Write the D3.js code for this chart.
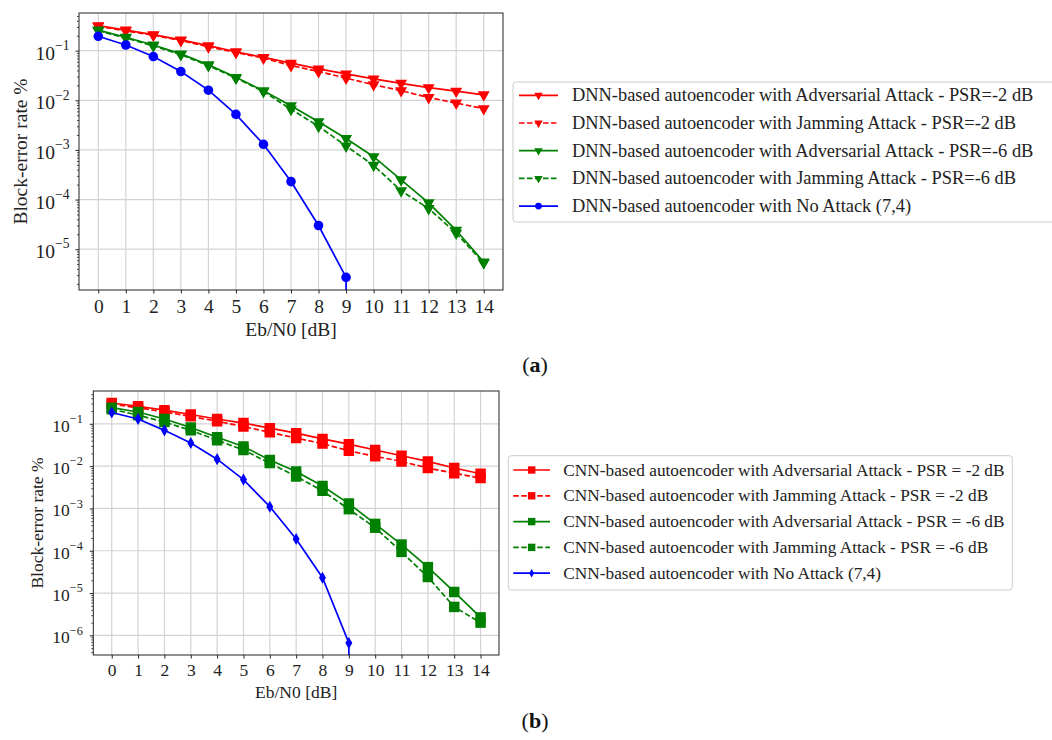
<!DOCTYPE html>
<html>
<head>
<meta charset="utf-8">
<script src="https://cdnjs.cloudflare.com/ajax/libs/d3/7.8.5/d3.min.js"></script>
<style>
body { margin: 0; background: #fff; }
svg { display: block; font-family: "Liberation Serif", "Times New Roman", serif; }
</style>
</head>
<body>
<svg width="1052" height="740"></svg>
<script>
// Eb/N0 values on the x axis
var ebn0 = [0, 1, 2, 3, 4, 5, 6, 7, 8, 9, 10, 11, 12, 13, 14];

// panel (a): DNN autoencoder
var dnnAdv2 = [0.32, 0.26, 0.21, 0.165, 0.126, 0.095, 0.073, 0.056, 0.043, 0.034, 0.027, 0.022, 0.018, 0.0153, 0.0129];
var dnnJam2 = [0.31, 0.25, 0.205, 0.16, 0.12, 0.092, 0.071, 0.05, 0.038, 0.028, 0.0206, 0.0156, 0.0114, 0.0088, 0.0068];
var dnnAdv6 = [0.26, 0.186, 0.13, 0.086, 0.052, 0.029, 0.0156, 0.0078, 0.0037, 0.0017, 7.3e-4, 2.5e-4, 8.6e-5, 2.4e-5, 5.5e-6];
var dnnJam6 = [0.25, 0.18, 0.125, 0.083, 0.05, 0.028, 0.015, 0.0066, 0.003, 0.0012, 4.9e-4, 1.5e-4, 6.6e-5, 2.1e-5, 5.3e-6];
var dnnNone = [0.195, 0.13, 0.076, 0.038, 0.016, 0.0052, 0.0013, 2.3e-4, 3.0e-5, 2.7e-6, 0];

// panel (b): CNN autoencoder
var cnnAdv2 = [0.31, 0.26, 0.21, 0.166, 0.13, 0.104, 0.079, 0.06, 0.044, 0.033, 0.024, 0.0176, 0.0129, 0.009, 0.0066];
var cnnJam2 = [0.29, 0.24, 0.19, 0.15, 0.115, 0.086, 0.063, 0.046, 0.034, 0.023, 0.017, 0.0129, 0.009, 0.0068, 0.0052];
var cnnAdv6 = [0.24, 0.19, 0.13, 0.082, 0.048, 0.029, 0.014, 0.0075, 0.0034, 0.0013, 4.3e-4, 1.4e-4, 4.1e-5, 1.06e-5, 2.66e-6];
var cnnJam6 = [0.22, 0.16, 0.11, 0.07, 0.041, 0.024, 0.0118, 0.0057, 0.0026, 9.6e-4, 3.5e-4, 9.4e-5, 2.4e-5, 4.7e-6, 2.0e-6];
var cnnNone = [0.185, 0.13, 0.07, 0.035, 0.0146, 0.0048, 0.0011, 1.9e-4, 2.3e-5, 6.6e-7, 0];

var dnnLabels = [
  "DNN-based autoencoder with Adversarial Attack - PSR=-2 dB",
  "DNN-based autoencoder with Jamming Attack - PSR=-2 dB",
  "DNN-based autoencoder with Adversarial Attack - PSR=-6 dB",
  "DNN-based autoencoder with Jamming Attack - PSR=-6 dB",
  "DNN-based autoencoder with No Attack (7,4)"
];
var cnnLabels = [
  "CNN-based autoencoder with Adversarial Attack - PSR = -2 dB",
  "CNN-based autoencoder with Jamming Attack - PSR = -2 dB",
  "CNN-based autoencoder with Adversarial Attack - PSR = -6 dB",
  "CNN-based autoencoder with Jamming Attack - PSR = -6 dB",
  "CNN-based autoencoder with No Attack (7,4)"
];

var lineColors = ["#ff0000", "#ff0000", "#008000", "#008000", "#0000ff"];
var lineDash = [null, "5.5,2.5", null, "5.5,2.5", null];

var svg = d3.select("svg");

function markerPath(type, size) {
  if (type == "v") return d3.symbol().type(d3.symbolTriangle).size(size)();
  if (type == "o") return d3.symbol().type(d3.symbolCircle).size(size)();
  if (type == "s") return d3.symbol().type(d3.symbolSquare).size(size)();
  return d3.symbol().type(d3.symbolDiamond).size(size)();
}

function drawPanel(p) {
  var g = svg.append("g").attr("transform", "translate(" + p.left + "," + p.top + ")");
  var w = p.width, h = p.height;

  // log domain with matplotlib-like 5% margin
  var all = [];
  p.series.forEach(function (s) { s.forEach(function (v) { if (v > 0) all.push(Math.log10(v)); }); });
  var lo = d3.min(all), hi = d3.max(all), m = (hi - lo) * 0.05;

  var x = d3.scaleLinear().domain([ebn0[0] - 0.7, ebn0[ebn0.length - 1] + 0.7]).range([0, w]);
  var y = d3.scaleLog().domain([Math.pow(10, lo - m), Math.pow(10, hi + m)]).range([h, 0]);

  var decades = [];
  for (var k = Math.ceil(lo - m); k <= Math.floor(hi + m); k++) decades.push(k);
  var minors = [];
  for (var k = Math.floor(lo - m); k <= Math.ceil(hi + m); k++) {
    for (var j = 2; j < 10; j++) {
      var v = j * Math.pow(10, k);
      if (v >= y.domain()[0] && v <= y.domain()[1]) minors.push(v);
    }
  }

  // grid
  g.append("g").selectAll("line").data(ebn0).enter().append("line")
    .attr("x1", function (d) { return x(d); }).attr("x2", function (d) { return x(d); })
    .attr("y1", 0).attr("y2", h)
    .attr("stroke", "#d3d3d3").attr("stroke-width", 1.2);
  g.append("g").selectAll("line").data(decades).enter().append("line")
    .attr("y1", function (d) { return y(Math.pow(10, d)); }).attr("y2", function (d) { return y(Math.pow(10, d)); })
    .attr("x1", 0).attr("x2", w)
    .attr("stroke", "#d3d3d3").attr("stroke-width", 1.2);

  // curves, zero values are clipped far below like matplotlib does
  var clipId = "clip" + p.name;
  g.append("clipPath").attr("id", clipId).append("rect").attr("width", w).attr("height", h);
  var plot = g.append("g").attr("clip-path", "url(#" + clipId + ")");

  var line = d3.line()
    .x(function (d, i) { return x(ebn0[i]); })
    .y(function (d) { return y(d > 0 ? d : 1e-300); });

  p.series.forEach(function (s, i) {
    plot.append("path").datum(s)
      .attr("d", line)
      .attr("fill", "none")
      .attr("stroke", lineColors[i])
      .attr("stroke-width", 1.7)
      .attr("stroke-dasharray", lineDash[i]);
    var mk = i == 4 ? p.markers[1] : p.markers[0];
    plot.append("g").selectAll("path").data(s.filter(function (v) { return v > 0; })).enter().append("path")
      .attr("d", markerPath(mk, i == 4 ? p.mSize[1] : p.mSize[0]))
      .attr("transform", function (d, k) {
        return "translate(" + x(ebn0[k]) + "," + y(d) + ")" + (mk == "v" ? " rotate(180)" : "");
      })
      .attr("fill", lineColors[i]);
  });

  // frame
  g.append("rect").attr("width", w).attr("height", h)
    .attr("fill", "none").attr("stroke", "#222").attr("stroke-width", 1);

  // axes
  var xAxis = g.append("g").attr("transform", "translate(0," + h + ")")
    .call(d3.axisBottom(x).tickValues(ebn0).tickSize(3.5).tickPadding(p.xPad).tickFormat(d3.format("d")));
  xAxis.select(".domain").remove();
  xAxis.selectAll("text").attr("font-size", p.font).attr("font-family", "Liberation Serif").attr("fill", "#222");
  xAxis.selectAll("line").attr("stroke", "#222");

  var yMinor = g.append("g").call(d3.axisLeft(y).tickValues(minors).tickSize(2).tickFormat(""));
  yMinor.select(".domain").remove();
  yMinor.selectAll("line").attr("stroke", "#222").attr("stroke-width", 0.8);

  var yAxis = g.append("g").call(d3.axisLeft(y).tickValues(decades.map(function (d) { return Math.pow(10, d); })).tickSize(3.5).tickFormat(""));
  yAxis.select(".domain").remove();
  yAxis.selectAll("line").attr("stroke", "#222");

  var labs = g.append("g").attr("fill", "#222").attr("font-size", p.font);
  decades.forEach(function (d) {
    var t = labs.append("text")
      .attr("x", -p.yPad).attr("y", y(Math.pow(10, d)) + p.yBase)
      .attr("text-anchor", "end");
    t.append("tspan").text("10");
    t.append("tspan").attr("dy", -0.5 * p.font).attr("font-size", p.font * 0.7).text("\u2212" + (-d));
  });

  // axis titles
  g.append("text").attr("x", w / 2).attr("y", h + p.xTitle)
    .attr("text-anchor", "middle").attr("font-size", p.font).attr("fill", "#222")
    .text("Eb/N0 [dB]");
  g.append("text").attr("transform", "translate(" + (-p.yTitle) + "," + h / 2 + ") rotate(-90)")
    .attr("text-anchor", "middle").attr("dy", "0.35em").attr("font-size", p.font).attr("fill", "#222")
    .text("Block-error rate %");

  // legend
  var lg = svg.append("g").attr("transform", "translate(" + p.legend[0] + "," + p.legend[1] + ")");
  lg.append("rect").attr("width", p.legend[2]).attr("height", p.legend[3])
    .attr("rx", 3).attr("fill", "#fff").attr("stroke", "#cccccc").attr("stroke-width", 1);
  p.labels.forEach(function (lab, i) {
    var cy = p.legRow0 + i * p.legStep;
    lg.append("line").attr("x1", p.legLine[0]).attr("x2", p.legLine[1]).attr("y1", cy).attr("y2", cy)
      .attr("stroke", lineColors[i]).attr("stroke-width", 1.7).attr("stroke-dasharray", lineDash[i]);
    var mk = i == 4 ? p.markers[1] : p.markers[0];
    lg.append("path").attr("d", markerPath(mk, (i == 4 ? p.mSize[1] : p.mSize[0]) * 0.5))
      .attr("transform", "translate(" + (p.legLine[0] + p.legLine[1]) / 2 + "," + cy + ")" + (mk == "v" ? " rotate(180)" : ""))
      .attr("fill", lineColors[i]);
    lg.append("text").attr("x", p.legText).attr("y", cy).attr("dy", "0.33em")
      .attr("font-size", p.legFont).attr("fill", "#222").text(lab);
  });

  // caption
  var cap = svg.append("text").attr("x", p.caption[0]).attr("y", p.caption[1])
    .attr("text-anchor", "middle").attr("font-size", 22).attr("fill", "#111");
  cap.append("tspan").text("(");
  cap.append("tspan").attr("font-weight", "bold").text(p.name);
  cap.append("tspan").text(")");
}

drawPanel({
  name: "a", left: 79, top: 13, width: 424, height: 277,
  series: [dnnAdv2, dnnJam2, dnnAdv6, dnnJam6, dnnNone],
  labels: dnnLabels, markers: ["v", "o"], mSize: [62, 72],
  font: 19.5, xPad: 6, xTitle: 46, yPad: 9.5, yBase: 9, yTitle: 59,
  legend: [513, 82, 560, 140], legRow0: 13.3, legStep: 27.7, legLine: [6, 45], legText: 59, legFont: 18.4,
  caption: [535, 372]
});

drawPanel({
  name: "b", left: 93.3, top: 391, width: 405.7, height: 264,
  series: [cnnAdv2, cnnJam2, cnnAdv6, cnnJam6, cnnNone],
  labels: cnnLabels, markers: ["s", "d"], mSize: [110, 42],
  font: 17.5, xPad: 5, xTitle: 43, yPad: 10.5, yBase: 8, yTitle: 56,
  legend: [508.3, 455.7, 504, 134.3], legRow0: 14.3, legStep: 25.8, legLine: [5, 41.7], legText: 55, legFont: 17.3,
  caption: [535, 728]
});
</script>
</body>
</html>
